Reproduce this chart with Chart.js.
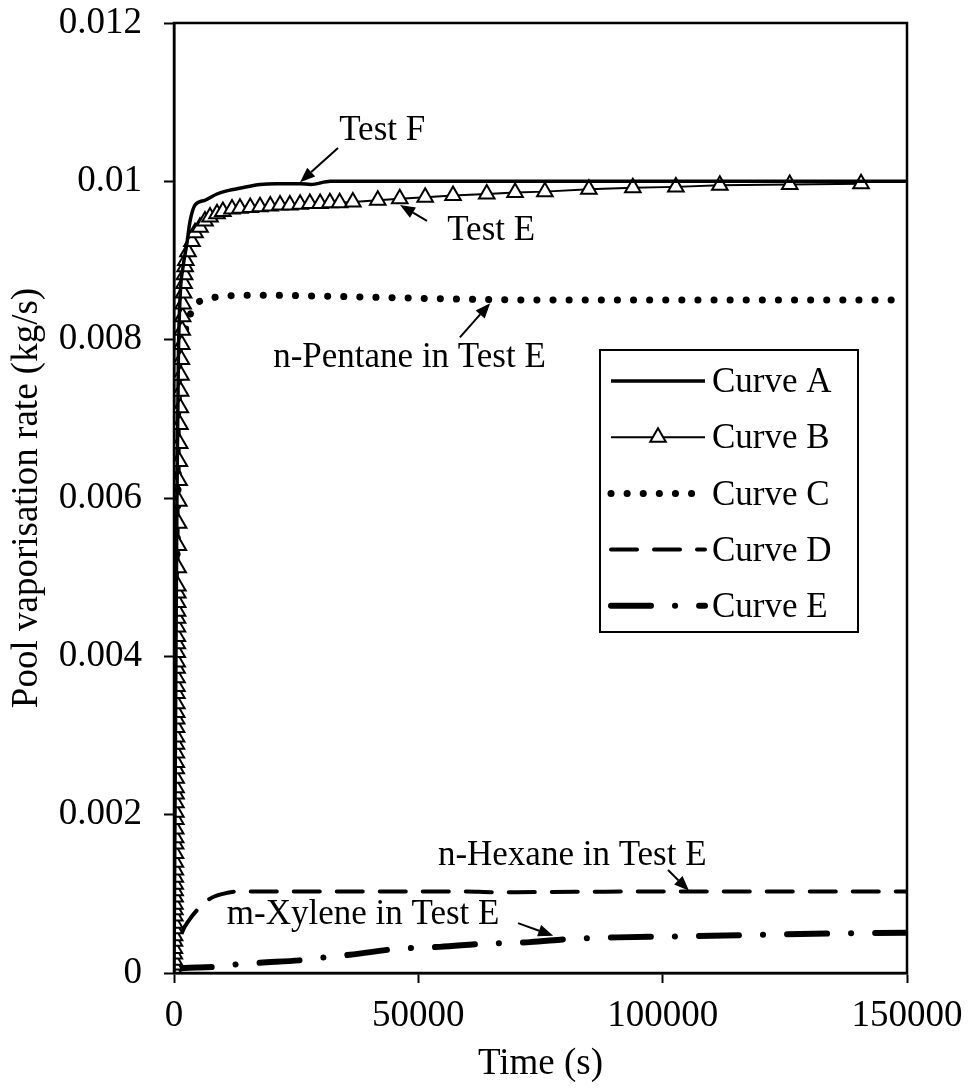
<!DOCTYPE html>
<html>
<head>
<meta charset="utf-8">
<title>Pool vaporisation rate</title>
<script src="https://cdn.jsdelivr.net/npm/chart.js@4/dist/chart.umd.min.js"></script>
<style>
  html, body { margin: 0; padding: 0; background: #fff; }
  #wrap { width: 973px; height: 1089px; }
</style>
</head>
<body>
<div id="wrap"><canvas id="poolChart" width="973" height="1089"></canvas></div>
<script>
"use strict";

// Curve A - Test F
const curveATime = [0, 300, 600, 900, 1300, 1800, 2600, 3300, 4300, 6300, 8800, 10800, 14000, 17600, 21000, 25800, 28000, 32000, 150000];
const curveARate = [0, 0.003, 0.006, 0.0078, 0.0086, 0.0089, 0.0092, 0.0095, 0.0097, 0.00976, 0.00984, 0.00988, 0.00992, 0.00996, 0.00997, 0.00997, 0.00996, 0.01, 0.01];

// Curve B - Test E (one triangle per sample)
const curveBTime = [
  0, 15, 30, 45, 60, 75, 90, 110, 125, 140, 160, 175, 190, 210, 225, 240,
  255, 270, 285, 300, 315, 330, 345, 360, 375, 390, 405, 420, 435, 450, 465, 480, 495, 510,
  525, 540, 555, 570, 585, 600, 615, 630, 645, 660, 675, 690, 705, 720, 735, 750, 770, 790,
  840, 890, 940, 990, 1040, 1100, 1160, 1220, 1290, 1360, 1430, 1510, 1590, 1670, 1760, 1850, 1950, 2050, 2160, 2280, 2420,
  2860, 3680, 4300, 5320, 6340, 7370, 8800, 10000, 11870,
  13500, 15600, 17600, 19700, 21700, 23700, 25800, 27800, 29900, 31900, 33900, 36600,
  41700, 46200, 51400, 57100, 64000, 69800, 75900, 84900, 93900, 102700, 111700, 126000, 140600
];
const curveBRate = [
  0, 0.00004, 0.0001, 0.00016, 0.00024, 0.00031, 0.0004, 0.00047, 0.00056, 0.00063, 0.00072, 0.0008, 0.00087, 0.00096, 0.00104, 0.00112,
  0.00121, 0.0013, 0.0014, 0.00151, 0.00163, 0.00171, 0.00182, 0.00194, 0.00203, 0.00215, 0.00226, 0.00234, 0.00246, 0.00258, 0.00266, 0.00278, 0.00289, 0.00298,
  0.0031, 0.00321, 0.00329, 0.0034, 0.00353, 0.00362, 0.00373, 0.00385, 0.00393, 0.00405, 0.00416, 0.00425, 0.00437, 0.00448, 0.00457, 0.00468, 0.0048, 0.00489,
  0.00512, 0.0054, 0.00568, 0.00596, 0.00622, 0.00646, 0.00669, 0.00693, 0.00714, 0.00735, 0.00755, 0.00775, 0.00794, 0.00812, 0.00829, 0.00845, 0.00859, 0.00871, 0.00882, 0.00892, 0.009,
  0.00911, 0.00924, 0.00935, 0.00942, 0.0095, 0.00955, 0.00959, 0.00962, 0.00965,
  0.00966, 0.00967, 0.00968, 0.00969, 0.0097, 0.0097, 0.00971, 0.00972, 0.00972, 0.00973, 0.00973, 0.00974,
  0.00976, 0.00978, 0.0098, 0.00982, 0.00984, 0.00986, 0.00987, 0.0099, 0.00992, 0.00993, 0.00995, 0.00996, 0.00997
];

// Curve C - n-Pentane in Test E
const curveCTime = [0, 200, 500, 900, 1300, 1640, 2250, 2860, 3900, 6000, 9000, 14000, 20000, 30000, 45000, 60000, 80000, 110000, 150000];
const curveCRate = [0, 0.002, 0.0045, 0.0064, 0.0072, 0.0076, 0.00808, 0.00822, 0.00841, 0.0085, 0.00854, 0.00856, 0.00856, 0.00855, 0.00853, 0.00851, 0.0085, 0.0085, 0.0085];

// Curve D - n-Hexane in Test E
const curveDTime = [0, 100, 400, 1200, 1700, 3000, 4800, 7400, 10000, 13000, 20000, 40000, 60000, 65000, 100000, 150000];
const curveDRate = [0, 0.0002, 0.00035, 0.0004, 0.00052, 0.00066, 0.0008, 0.00094, 0.001, 0.00103, 0.00103, 0.00103, 0.00103, 0.00102, 0.00103, 0.00103];

// Curve E - m-Xylene in Test E
const curveETime = [0, 500, 5000, 9000, 13100, 17600, 25800, 31300, 36000, 44800, 49700, 54400, 63200, 68100, 72800, 81000, 90800, 100400, 110000, 125000, 150000];
const curveERate = [0, 0.00005, 0.00007, 0.00008, 0.00011, 0.00013, 0.00016, 0.0002, 0.00023, 0.0003, 0.00032, 0.00033, 0.00037, 0.00038, 0.00039, 0.00043, 0.00045, 0.00046, 0.00047, 0.00049, 0.00051];

const curveNames = ['Curve A', 'Curve B', 'Curve C', 'Curve D', 'Curve E'];
const xTicks = [0, 50000, 100000, 150000];
const yTicks = [0, 0.002, 0.004, 0.006, 0.008, 0.01, 0.012];

// labels with arrows: text anchor (t, rate), arrow tail and tip (t, rate)
const noteText = ['Test F', 'Test E', 'n-Pentane in Test E', 'n-Hexane in Test E', 'm-Xylene in Test E'];
const noteAt = [[33800, 0.01052], [55900, 0.00926], [20300, 0.00766], [54000, 0.00136], [10800, 0.00062]];
const noteTail = [[33560, 0.01042], [51770, 0.0095], [58500, 0.00803], [101100, 0.0013], [70400, 0.00063]];
const noteTip = [[25800, 0.00999], [46250, 0.0097], [64700, 0.00846], [105400, 0.00104], [77600, 0.00047]];

const serif = '"Liberation Serif", "Times New Roman", serif';
const axisFont = { family: serif, size: 37 };

function toPoints(times, rates) {
    return times.map((t, i) => ({ x: t, y: rates[i] }));
}

function drawArrow(ctx, x1, y1, x2, y2) {
    const ang = Math.atan2(y2 - y1, x2 - x1);
    const len = 15, half = 6;
    const bx = x2 - len * Math.cos(ang), by = y2 - len * Math.sin(ang);
    ctx.beginPath();
    ctx.moveTo(x1, y1);
    ctx.lineTo(bx, by);
    ctx.stroke();
    ctx.beginPath();
    ctx.moveTo(x2, y2);
    ctx.lineTo(bx + half * Math.sin(ang), by - half * Math.cos(ang));
    ctx.lineTo(bx - half * Math.sin(ang), by + half * Math.cos(ang));
    ctx.closePath();
    ctx.fill();
}

function drawTriangle(ctx, x, y, r) {
    ctx.beginPath();
    ctx.moveTo(x, y - r);
    ctx.lineTo(x + r * Math.sin(2 * Math.PI / 3), y - r * Math.cos(2 * Math.PI / 3));
    ctx.lineTo(x - r * Math.sin(2 * Math.PI / 3), y - r * Math.cos(2 * Math.PI / 3));
    ctx.closePath();
    ctx.fill();
    ctx.stroke();
}

const extras = {
    id: 'extras',
    beforeDraw(chart) {
        const ctx = chart.ctx;
        ctx.save();
        ctx.fillStyle = '#fff';
        ctx.fillRect(0, 0, chart.width, chart.height);
        ctx.restore();
    },
    afterDatasetsDraw(chart) {
        const ctx = chart.ctx;
        const area = chart.chartArea;
        const xs = chart.scales.x, ys = chart.scales.y;
        ctx.save();

        // plot frame
        ctx.strokeStyle = '#000';
        ctx.lineWidth = 2.5;
        ctx.strokeRect(area.left, area.top, area.right - area.left, area.bottom - area.top);

        // notes with arrows
        ctx.fillStyle = '#000';
        ctx.lineWidth = 2;
        ctx.font = '35px ' + serif;
        ctx.textBaseline = 'alphabetic';
        ctx.textAlign = 'left';
        noteText.forEach((txt, i) => {
            ctx.fillText(txt, xs.getPixelForValue(noteAt[i][0]), ys.getPixelForValue(noteAt[i][1]));
            drawArrow(ctx,
                xs.getPixelForValue(noteTail[i][0]), ys.getPixelForValue(noteTail[i][1]),
                xs.getPixelForValue(noteTip[i][0]), ys.getPixelForValue(noteTip[i][1]));
        });

        // legend box
        const box = { left: 600, top: 350, width: 258, height: 282 };
        ctx.fillStyle = '#fff';
        ctx.fillRect(box.left, box.top, box.width, box.height);
        ctx.strokeStyle = '#000';
        ctx.lineWidth = 2;
        ctx.strokeRect(box.left, box.top, box.width, box.height);

        ctx.textBaseline = 'middle';
        chart.data.datasets.forEach((ds, i) => {
            const y = box.top + 31 + i * 56.2;
            ctx.save();
            ctx.strokeStyle = '#000';
            ctx.lineWidth = ds.borderWidth;
            ctx.lineCap = ds.borderCapStyle || 'butt';
            ctx.setLineDash(ds.borderDash || []);
            ctx.beginPath();
            ctx.moveTo(box.left + 11, y);
            ctx.lineTo(box.left + 105, y);
            ctx.stroke();
            ctx.restore();
            if (ds.pointStyle === 'triangle') {
                ctx.fillStyle = '#fff';
                ctx.lineWidth = ds.pointBorderWidth;
                drawTriangle(ctx, box.left + 58, y, ds.pointRadius);
            }
            ctx.fillStyle = '#000';
            ctx.fillText(ds.label, box.left + 112, y + 2);
        });
        ctx.restore();
    }
};

const ctx = document.getElementById('poolChart').getContext('2d');
new Chart(ctx, {
    type: 'line',
    data: {
        datasets: [{
            label: curveNames[0],
            data: toPoints(curveATime, curveARate),
            borderColor: '#000',
            borderWidth: 3.5,
            cubicInterpolationMode: 'monotone',
            pointRadius: 0
        }, {
            label: curveNames[1],
            data: toPoints(curveBTime, curveBRate),
            borderColor: '#000',
            borderWidth: 2,
            pointStyle: 'triangle',
            pointRadius: 9,
            pointBorderWidth: 2,
            pointBackgroundColor: '#fff',
            pointBorderColor: '#000'
        }, {
            label: curveNames[2],
            data: toPoints(curveCTime, curveCRate),
            borderColor: '#000',
            borderWidth: 7,
            borderDash: [0.1, 16],
            borderCapStyle: 'round',
            cubicInterpolationMode: 'monotone',
            pointRadius: 0
        }, {
            label: curveNames[3],
            data: toPoints(curveDTime, curveDRate),
            borderColor: '#000',
            borderWidth: 4,
            borderDash: [26, 17],
            borderCapStyle: 'round',
            cubicInterpolationMode: 'monotone',
            pointRadius: 0
        }, {
            label: curveNames[4],
            data: toPoints(curveETime, curveERate),
            borderColor: '#000',
            borderWidth: 6,
            borderDash: [40, 24, 0.1, 24],
            borderCapStyle: 'round',
            cubicInterpolationMode: 'monotone',
            pointRadius: 0
        }]
    },
    options: {
        responsive: false,
        animation: false,
        devicePixelRatio: 1,
        layout: { padding: { top: 23, right: 66, left: 0, bottom: 0 } },
        plugins: {
            legend: { display: false },
            tooltip: { enabled: false }
        },
        scales: {
            x: {
                type: 'linear',
                min: xTicks[0],
                max: xTicks[xTicks.length - 1],
                afterBuildTicks(scale) { scale.ticks = xTicks.map(v => ({ value: v })); },
                afterFit(scale) {
                    scale.height = 116;
                    scale.paddingLeft = 0;
                    scale.paddingRight = 0;
                },
                ticks: {
                    color: '#000',
                    font: axisFont,
                    padding: 11,
                    maxRotation: 0,
                    callback: v => String(v)
                },
                grid: { drawOnChartArea: false, tickLength: 10, color: '#000', tickWidth: 2 },
                border: { color: '#000', width: 2.5 },
                title: { display: true, text: 'Time (s)', color: '#000', font: axisFont, padding: { top: 0, bottom: 3 } }
            },
            y: {
                type: 'linear',
                min: yTicks[0],
                max: yTicks[yTicks.length - 1],
                afterBuildTicks(scale) { scale.ticks = yTicks.map(v => ({ value: v })); },
                afterFit(scale) {
                    scale.width = 174;
                    scale.paddingTop = 0;
                    scale.paddingBottom = 0;
                },
                ticks: {
                    color: '#000',
                    font: axisFont,
                    padding: 22,
                    callback: v => String(+v.toFixed(3))
                },
                grid: { drawOnChartArea: false, tickLength: 10, color: '#000', tickWidth: 2 },
                border: { color: '#000', width: 2.5 },
                title: { display: true, text: 'Pool vaporisation rate (kg/s)', color: '#000', font: axisFont, padding: { top: 5, bottom: 0 } }
            }
        }
    },
    plugins: [extras]
});
</script>
</body>
</html>
